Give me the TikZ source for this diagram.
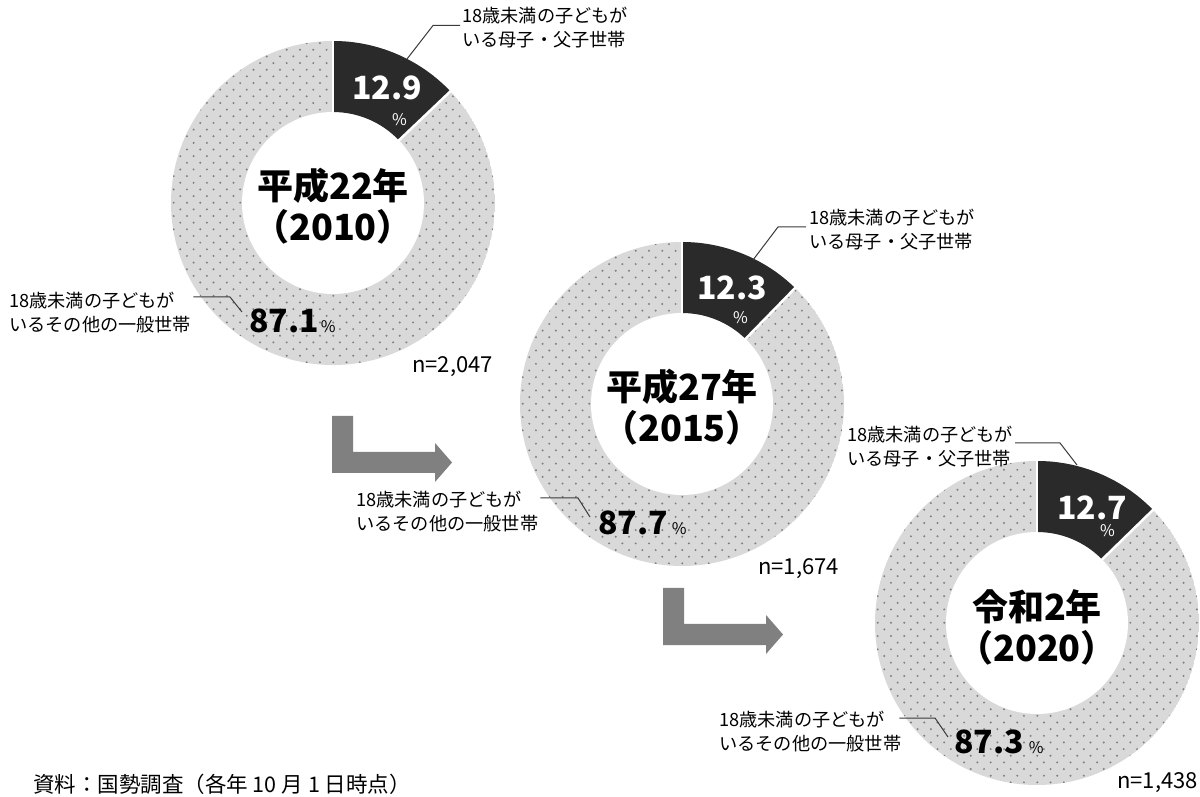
\documentclass[tikz,border=0pt]{standalone}
\usepackage{fontspec}
\setmainfont{Noto Sans CJK JP}
\usetikzlibrary{calc}
\definecolor{ringgray}{HTML}{D9D9D9}
\definecolor{dotgray}{HTML}{7F7F7F}
\definecolor{wedgec}{HTML}{2A2A2A}
\definecolor{arrowgray}{HTML}{808080}
\definecolor{leadgray}{HTML}{3A3A3A}
\newcommand\donutring[3]{%
  \begin{scope}
    \clip (#1,#2) circle[radius=162];
    \fill[ringgray] (#1,#2) circle[radius=162];
    \foreach \j in {0,...,49}{%
      \foreach \i in {0,...,25}{%
        \fill[dotgray] ({#1-166+13.3*\i+6.65*mod(\j,2)},{#2-166+6.65*\j}) circle[radius=1.1];
      }%
    }%
  \end{scope}
  \fill[white] (#1,#2) circle[radius=91];
  \fill[wedgec] ([shift={(90:162)}]#1,#2) arc[start angle=90,end angle=#3,radius=162]
     -- ([shift={(#3:91)}]#1,#2) arc[start angle=#3,end angle=90,radius=91] -- cycle;
  \draw[white,line width=2.5] ([shift={(90:88)}]#1,#2) -- ([shift={(90:165)}]#1,#2);
  \draw[white,line width=2.5] ([shift={(#3:88)}]#1,#2) -- ([shift={(#3:165)}]#1,#2);
}
\newcommand\bentarrow[2]{%
  \fill[arrowgray] (#1,#2) -- ++(21,0) -- ++(0,-36) -- ++(82,0) -- ++(0,9) -- ++(17,-19.5)
    -- ++(-17,-19.5) -- ++(0,9) -- ++(-103,0) -- cycle;}
\tikzset{
  lbl/.style={inner sep=0pt, align=left, font=\fontsize{18.2}{24}\selectfont},
  leader/.style={draw=leadgray, line width=1},
  title/.style={inner sep=0pt, align=center, font=\fontsize{36}{41}\selectfont\bfseries},
  wnum/.style={inner sep=0pt, text=white, font=\fontsize{32}{32}\selectfont\bfseries},
  wpct/.style={inner sep=0pt, text=white, font=\fontsize{16}{16}\selectfont},
  bnum/.style={inner sep=0pt, font=\fontsize{32}{32}\selectfont\bfseries},
  ntext/.style={inner sep=0pt, font=\fontsize{22}{22}\selectfont},
}
\begin{document}
\begin{tikzpicture}[x=1pt,y=1pt]
\useasboundingbox (0,0) rectangle (1200,796);
\fill[white] (0,0) rectangle (1200,796);
% donuts
\donutring{333}{593}{43.56}
\donutring{682}{392}{45.72}
\donutring{1037}{173}{44.28}
% arrows
\bentarrow{332}{380}
\bentarrow{663}{208}
% titles
\node[title] (y1) at (333,590) {平成22年\\（2010）};
\node[title] (y2) at (682,389) {平成27年\\（2015）};
\node[title] (y3) at (1037,169) {令和2年\\（2020）};
% wedge numbers
\node[wnum, anchor=base west] (w1) at (352,696) {12.9};
\node[wpct] (w1p) at (399.5,676.5) {\%};
\node[wnum, anchor=base west] (w2) at (697,496) {12.3};
\node[wpct] (w2p) at (740.5,478.5) {\%};
\node[wnum, anchor=base west] (w3) at (1057,276) {12.7};
\node[wpct] (w3p) at (1107.5,265.5) {\%};
% big numbers
\node[bnum, anchor=base west] (p1) at (249,463) {87.1\hspace{2pt}{\fontsize{16}{16}\selectfont\mdseries\%}};
\node[bnum, anchor=base west] (p2) at (598,261) {87.7\hspace{4pt}{\fontsize{16}{16}\selectfont\mdseries\%}};
\node[bnum, anchor=base west] (p3) at (954,43) {87.3\hspace{5pt}{\fontsize{16}{16}\selectfont\mdseries\%}};
% labels
\node[lbl, anchor=west] (t1) at (462,768) {18歳未満の子どもが\\いる母子・父子世帯};
\node[lbl, anchor=west] (t2) at (809,566) {18歳未満の子どもが\\いる母子・父子世帯};
\node[lbl, anchor=west] (t3) at (847,349) {18歳未満の子どもが\\いる母子・父子世帯};
\node[lbl, anchor=west] (b1) at (9,483.5) {18歳未満の子どもが\\いるその他の一般世帯};
\node[lbl, anchor=west] (b2) at (356,284) {18歳未満の子どもが\\いるその他の一般世帯};
\node[lbl, anchor=west] (b3) at (719,64) {18歳未満の子どもが\\いるその他の一般世帯};
% leaders
\coordinate (l1a) at (433,770.5); \coordinate (l1b) at (407,737);
\coordinate (l2a) at (778,569); \coordinate (l2b) at (753,536);
\coordinate (l3a) at (1060,353); \coordinate (l3b) at (1077,331);
\coordinate (l4a) at (230,499); \coordinate (l4b) at (242,484);
\coordinate (l5a) at (578,298); \coordinate (l5b) at (590,279);
\coordinate (l6a) at (935,78); \coordinate (l6b) at (948,59);
\draw[leader] ([xshift=-2]t1.west |- l1a) -- (l1a) -- (l1b);
\draw[leader] ([xshift=-3]t2.west |- l2a) -- (l2a) -- (l2b);
\draw[leader] ([xshift=2]t3.east |- l3a) -- (l3a) -- (l3b);
\draw[leader] ([xshift=2]b1.east |- l4a) -- (l4a) -- (l4b);
\draw[leader] ([xshift=2]b2.east |- l5a) -- (l5a) -- (l5b);
\draw[leader] ([xshift=-2]b3.east |- l6a) -- (l6a) -- (l6b);
% n labels
\node[ntext, anchor=base west] (n1) at (412,423) {n=2,047};
\node[ntext, anchor=base west] (n2) at (758,221) {n=1,674};
\node[ntext, anchor=base east] (n3) at (1198,8) {n=1,438};
% footnote
\node[inner sep=0pt, anchor=west, font=\fontsize{21.5}{21.5}\selectfont] (src) at (33,12) {資料：国勢調査（各年 10 月 1 日時点）};
\end{tikzpicture}
\end{document}
